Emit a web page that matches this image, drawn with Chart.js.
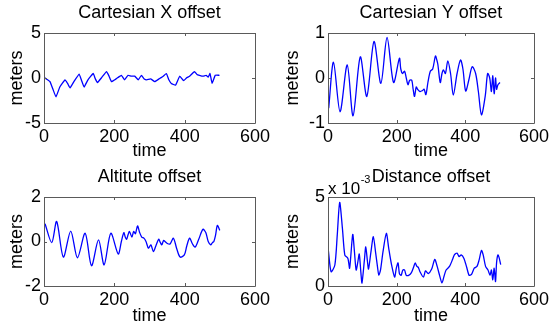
<!DOCTYPE html>
<html><head><meta charset="utf-8">
<script src="https://cdn.jsdelivr.net/npm/chart.js@4/dist/chart.umd.min.js"></script>
<style>
html,body{margin:0;padding:0;background:#fff;}
#wrap{position:relative;width:552px;height:330px;overflow:hidden;}
canvas{position:absolute;}
</style></head><body>
<div id="wrap">
<canvas id="c1" width="276" height="165" style="left:0;top:0"></canvas>
<canvas id="c2" width="276" height="165" style="left:276px;top:0"></canvas>
<canvas id="c3" width="276" height="165" style="left:0;top:165px"></canvas>
<canvas id="c4" width="276" height="165" style="left:276px;top:165px"></canvas>
</div>
<script>
// ---- data ----
const xTicks = [0, 200, 400, 600];
const titles = ["Cartesian X offset", "Cartesian Y offset", "Altitute offset", "Distance offset"];
const xLabel = "time";
const yLabel = "meters";

const timeX = [0,3,10,17,25,34,45,60,67,74,85,100,107,114,125,140,146,152,165,178,185,192,205,212,220,229,239,248,258,268,277,285,292,303,315,327,339,348,355,362,374,386,397,405,414,428,435,442,452,461,467,472,478,487,499];
const valX  = [0.1,0.0,-0.2,-0.4,-1.2,-2.1,-1.0,-0.2,-0.6,-1.1,-0.4,0.44,-0.3,-1.0,-0.2,0.5,-0.1,-0.5,0.1,0.7,0.2,-0.4,-0.1,0.1,0.3,-0.2,0.3,0.2,0.2,-0.2,0.3,-0.1,-0.2,-0.1,-0.4,-0.1,0.2,0.5,-0.2,-0.6,-0.8,0.2,-0.3,0.0,0.2,0.7,0.4,0.3,0.2,0.3,0.1,0.5,-0.6,0.3,0.3];

const timeY = [2,16,35,56,73,94,113,134,154,172,191,208,212,217,223,228,233,238,244,248,252,257,261,268,275,280,285,291,298,305,313,317,320,327,332,336,342,349,357,365,376,386,393,401,410,420,430,438,447,458,465,471,476,480,484,488,491,495,501];
const valY  = [-0.67,0.35,-0.75,0.29,-0.84,0.47,-0.41,0.81,-0.12,0.9,-0.1,0.44,0.2,0.1,0.15,0.0,-0.15,-0.05,-0.05,-0.25,-0.41,-0.2,-0.25,-0.3,-0.28,-0.25,-0.37,-0.1,0.15,0.2,0.49,0.4,0.3,-0.1,0.1,0.18,0.1,0.38,0.1,-0.38,0.1,0.4,0.2,-0.29,-0.05,0.25,0.1,-0.3,-0.82,-0.4,0.1,0.0,-0.3,0.05,-0.35,0.0,-0.25,-0.15,-0.1];

const timeA = [3,22,36,55,76,95,117,135,155,171,190,211,220,227,231,235,239,243,250,255,260,266,272,278,284,290,297,304,311,318,326,331,335,340,344,352,359,368,377,387,399,406,414,422,430,440,452,460,467,474,479,483,488,493,500];
const valA  = [0.8,-0.05,0.9,-0.7,0.47,-0.73,0.37,-1.09,0.07,-1.05,0.37,-0.56,0.0,0.4,0.2,0.1,0.3,0.45,0.2,0.45,0.35,0.7,0.4,0.2,0.15,0.0,-0.3,-0.15,-0.45,-0.2,0.1,-0.05,-0.15,0.05,0.0,-0.1,-0.1,0.15,-0.3,-0.7,-0.6,-0.2,0.15,-0.1,-0.25,0.1,0.55,0.4,0.0,-0.15,-0.05,0.0,0.3,0.72,0.5];

const timeD = [1,9,20,27,34,42,49,58,63,72,77,82,87,91,96,99,106,110,115,118,125,132,139,144,148,153,160,170,177,185,194,199,204,208,213,218,223,228,235,243,250,254,259,263,268,278,284,292,302,311,318,325,332,338,344,354,363,368,376,382,388,396,404,411,418,426,434,440,447,452,459,466,472,476,480,484,488,491,495,499,503];
const valD  = [0.0020,0.0008,0.00118,0.00287,0.0047,0.00324,0.00174,0.00155,0.0010,0.0029,0.00193,0.0009,0.00136,0.0018,0.00071,0.00017,0.00145,0.0022,0.00136,0.00095,0.0019,0.00277,0.00183,0.0011,0.00062,0.0009,0.0019,0.00296,0.0021,0.0012,0.0005,0.0010,0.0013,0.0007,0.0006,0.0009,0.0009,0.0006,0.0006,0.00075,0.0011,0.0013,0.0011,0.00105,0.0008,0.0005,0.00085,0.0007,0.00095,0.0015,0.0011,0.0006,0.00017,0.00055,0.0009,0.0011,0.0015,0.00175,0.00185,0.00165,0.00175,0.00155,0.00105,0.0006,0.00065,0.0010,0.0011,0.00145,0.0020,0.00175,0.0011,0.0009,0.0006,0.0009,0.00035,0.0010,0.00025,0.0013,0.00175,0.00155,0.0012];

const yTicksX = [-5, 0, 5];
const yTicksY = [-1, 0, 1];
const yTicksA = [-2, 0, 2];
const yTicksD = [0, 0.005];

// ---- drawing ----
const FONT = "'Liberation Sans', Arial, sans-serif";

const boxPlugin = {
  id: 'matlabBox',
  afterDraw(chart, args, opts) {
    const {ctx, chartArea: a} = chart;
    const xs = chart.scales.x, ys = chart.scales.y;
    ctx.save();
    ctx.strokeStyle = '#5a5a5a';
    ctx.lineWidth = 1;
    ctx.beginPath();
    ctx.rect(Math.round(a.left) + 0.5, Math.round(a.top) + 0.5, Math.round(a.right - a.left), Math.round(a.bottom - a.top));
    const L = 3;
    xTicks.forEach(v => {
      const px = Math.round(xs.getPixelForValue(v)) + 0.5;
      ctx.moveTo(px, a.bottom); ctx.lineTo(px, a.bottom - L);
      ctx.moveTo(px, a.top); ctx.lineTo(px, a.top + L);
    });
    (opts.yt || []).forEach(v => {
      const py = Math.round(ys.getPixelForValue(v)) + 0.5;
      ctx.moveTo(a.left, py); ctx.lineTo(a.left + L, py);
      ctx.moveTo(a.right, py); ctx.lineTo(a.right - L, py);
    });
    ctx.stroke();
    if (opts.exponent) {
      ctx.fillStyle = '#000';
      ctx.textBaseline = 'alphabetic';
      ctx.textAlign = 'left';
      ctx.font = '17px ' + FONT;
      const base = 'x 10';
      ctx.fillText(base, a.left, 29);
      const w = ctx.measureText(base).width;
      ctx.font = '11px ' + FONT;
      ctx.fillText(opts.exponent, a.left + w + 0.5, 18);
    }
    ctx.restore();
  }
};

function makePanel(id, title, times, values, yt, geo, fmt, tension, exponent) {
  const pts = times.map((t, i) => ({x: t, y: values[i]}));
  new Chart(document.getElementById(id), {
    type: 'line',
    data: {datasets: [{data: pts, borderColor: '#0000ff', borderWidth: 1.3, pointRadius: 0, tension: tension, fill: false}]},
    plugins: [boxPlugin],
    options: {
      responsive: false, animation: false, devicePixelRatio: 1,
      layout: {padding: {left: 0, right: 276 - geo.right, top: 0, bottom: 0}},
      plugins: {
        legend: {display: false}, tooltip: {enabled: false},
        title: {display: true, text: title, fullSize: false, color: '#000',
          font: {family: FONT, size: 18, weight: 'normal', lineHeight: 1},
          padding: {top: geo.top - 28.5, bottom: 10.5}},
        matlabBox: {yt: yt, exponent: exponent}
      },
      scales: {
        x: {type: 'linear', min: 0, max: 600,
          afterBuildTicks: s => { s.ticks = xTicks.map(v => ({value: v})); },
          afterFit: s => { s.height = 165 - geo.bottom; },
          grid: {display: false, drawTicks: false},
          border: {display: false},
          ticks: {color: '#000', padding: 3, maxRotation: 0, autoSkip: false, font: {family: FONT, size: 18}},
          title: {display: true, text: xLabel, color: '#000', font: {family: FONT, size: 18, lineHeight: 1}, padding: {top: 0, bottom: 5}}
        },
        y: {type: 'linear', min: yt[0], max: yt[yt.length - 1],
          afterBuildTicks: s => { s.ticks = yt.map(v => ({value: v})); },
          afterFit: s => { s.width = geo.left; },
          grid: {display: false, drawTicks: false},
          border: {display: false},
          ticks: {color: '#000', padding: 3, autoSkip: false, font: {family: FONT, size: 18}, callback: fmt},
          title: {display: true, text: yLabel, color: '#000', font: {family: FONT, size: 18, lineHeight: 1}, padding: {top: 8, bottom: 0}}
        }
      }
    }
  });
}

const plain = v => String(v);
makePanel('c1', titles[0], timeX, valX, yTicksX, {left: 44, right: 255, top: 33, bottom: 123}, plain, 0.1);
makePanel('c2', titles[1], timeY, valY, yTicksY, {left: 52, right: 263, top: 33, bottom: 123}, plain, 0.3);
makePanel('c3', titles[2], timeA, valA, yTicksA, {left: 44, right: 255, top: 32, bottom: 121}, plain, 0.3);
makePanel('c4', titles[3], timeD, valD, yTicksD, {left: 52, right: 262, top: 32, bottom: 121}, v => String(Math.round(v * 1000)), 0.25, '-3');
</script>
</body></html>
